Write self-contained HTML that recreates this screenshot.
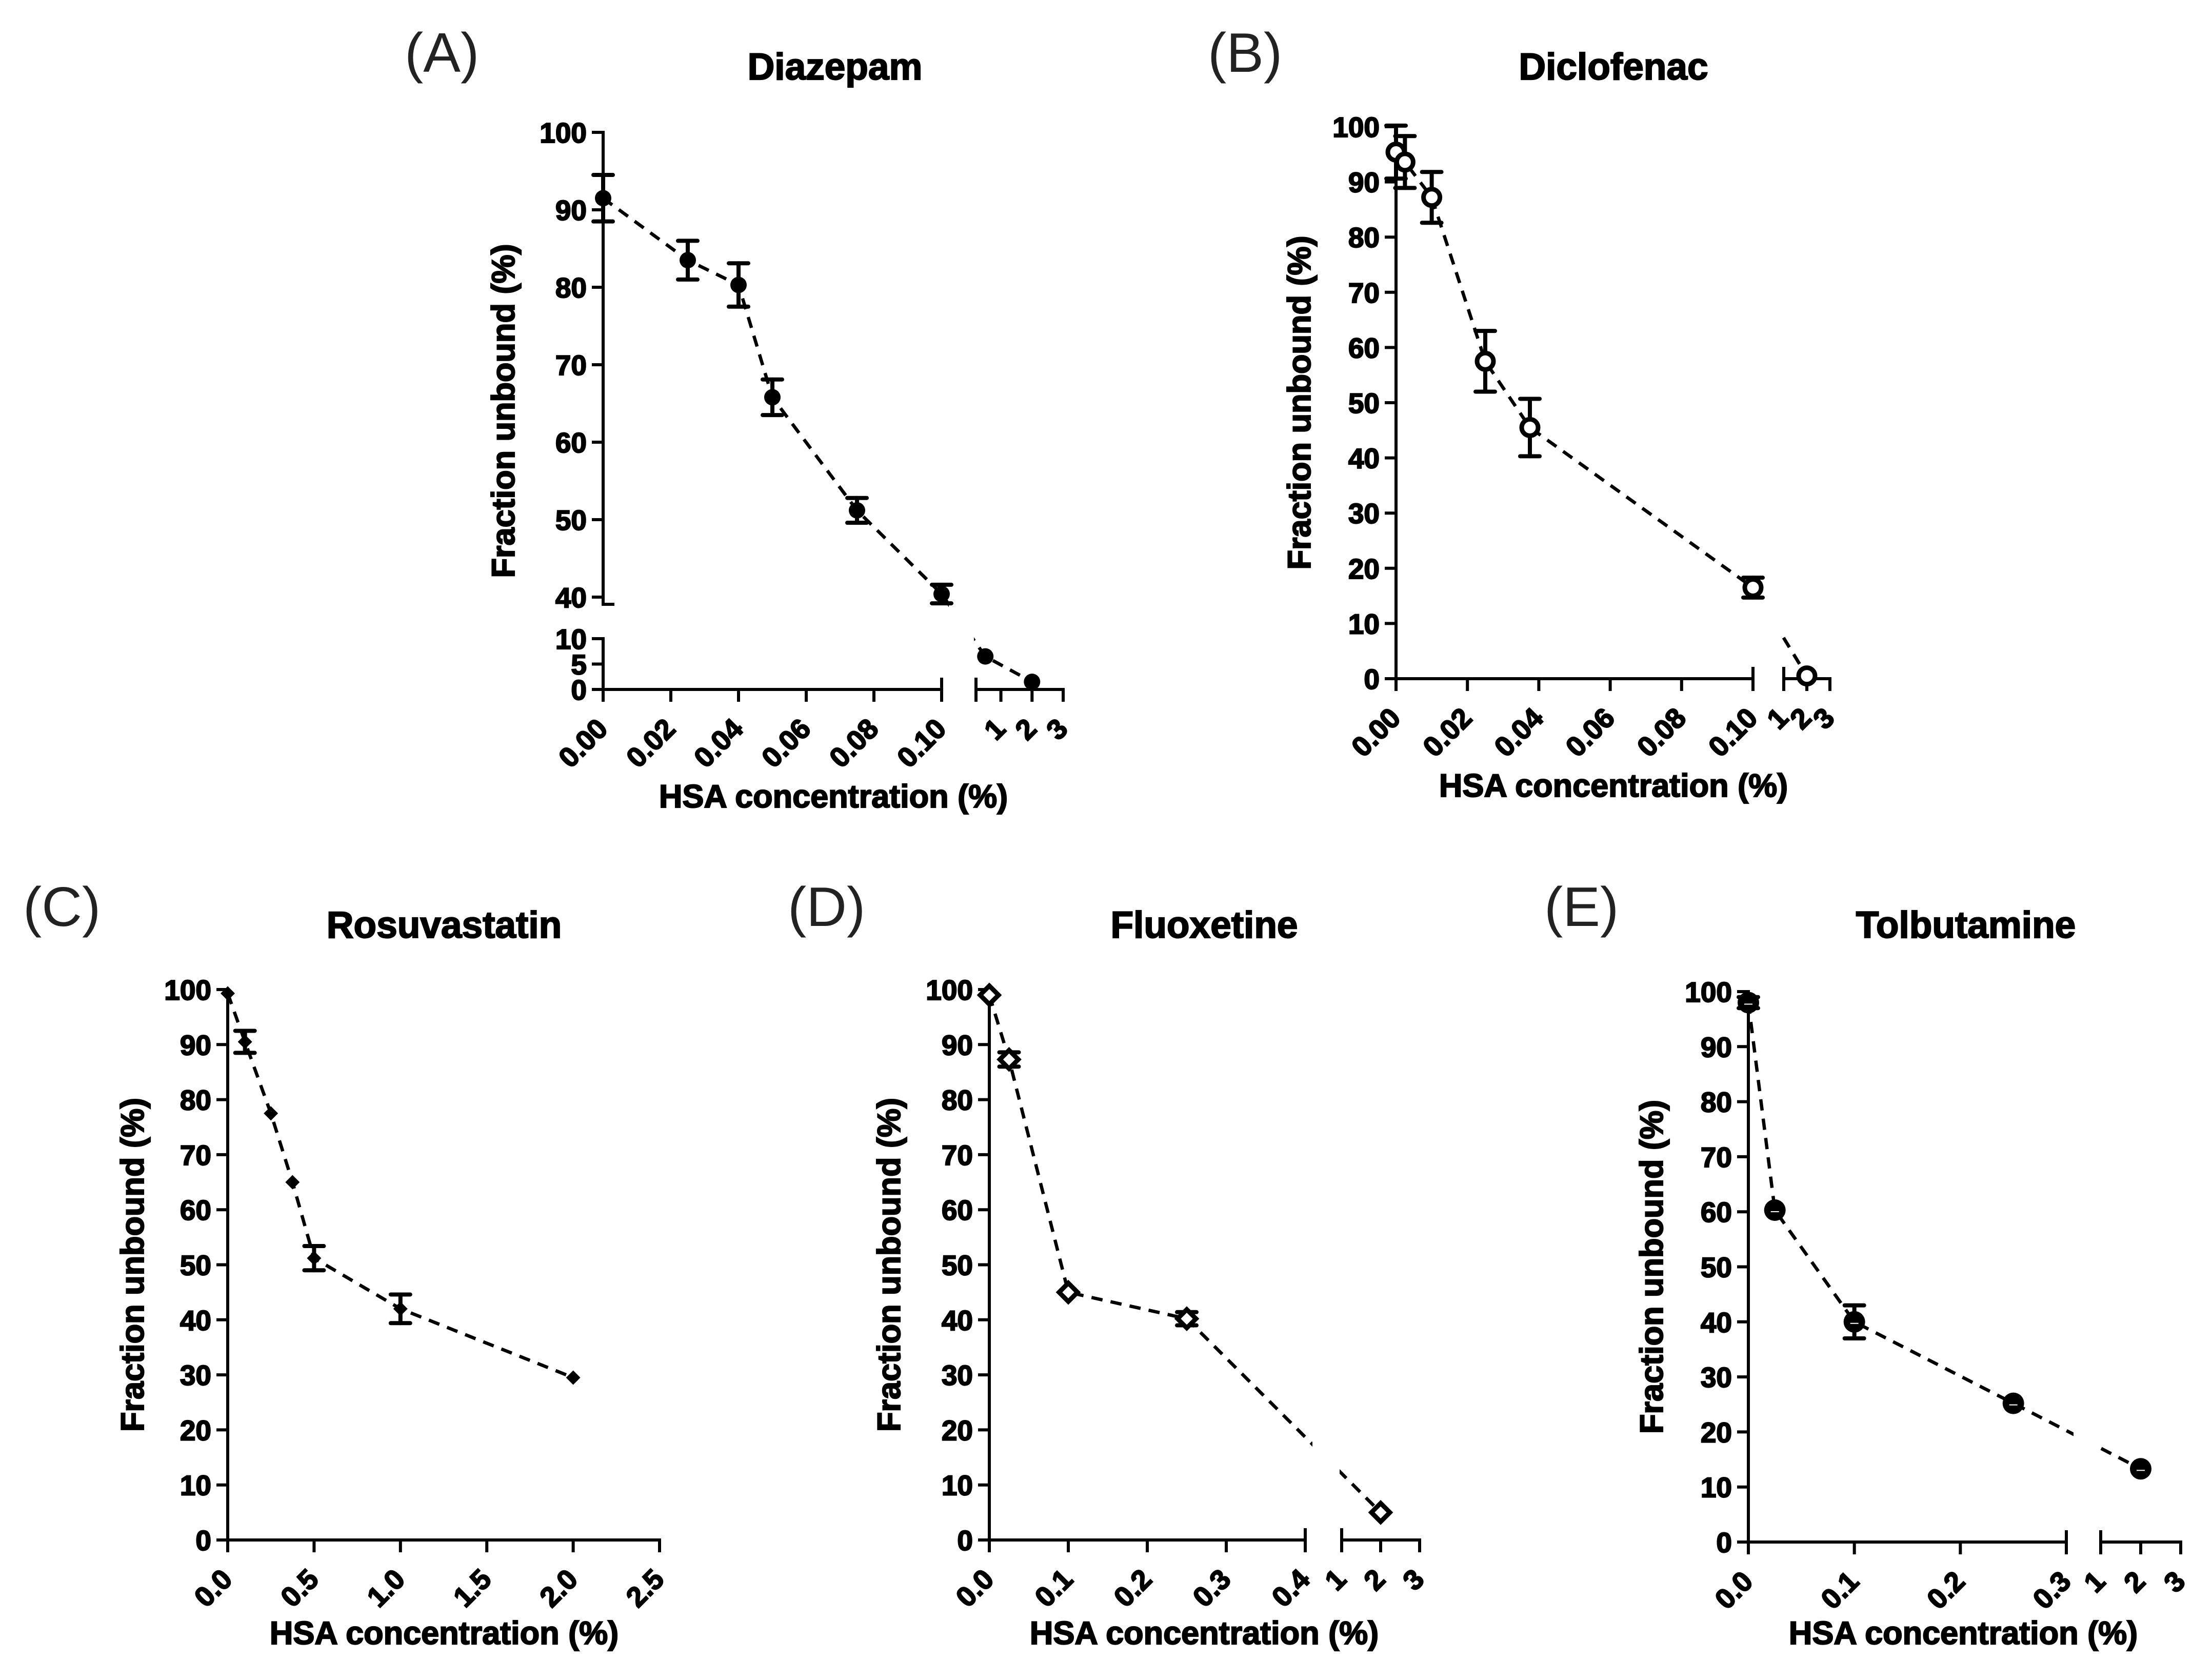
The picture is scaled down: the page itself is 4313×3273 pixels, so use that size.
<!DOCTYPE html>
<html><head><meta charset="utf-8"><style>
html,body{margin:0;padding:0;background:#fff}
svg{display:block}
text{font-family:"Liberation Sans",Arial,sans-serif}
</style></head><body>
<svg id="fig" xmlns="http://www.w3.org/2000/svg" width="4313" height="3273" viewBox="0 0 4313 3273">
<rect width="4313" height="3273" fill="#fff"/>
</svg>
<script>
// ---------- data ----------
const diazepamX = [0, 0.025, 0.04, 0.05, 0.075, 0.1, 0.5, 2];
const diazepamY = [91.5, 83.5, 80.3, 65.8, 51.2, 40.4, 6.5, 1.5];
const diazepamErr = [3, 2.5, 2.8, 2.3, 1.6, 1.2, 0.3, 0.3];

const diclofenacX = [0, 0.0025, 0.01, 0.025, 0.0375, 0.1, 2];
const diclofenacY = [95.4, 93.6, 87.2, 57.5, 45.5, 16.5, 0.5];
const diclofenacErr = [4.8, 4.7, 4.6, 5.5, 5.2, 1.8, 0.3];

const rosuvastatinX = [0, 0.1, 0.25, 0.375, 0.5, 1.0, 2.0];
const rosuvastatinY = [99.3, 90.5, 77.5, 65, 51.2, 42, 29.5];
const rosuvastatinErr = [0.3, 2, 0.5, 0.5, 2.2, 2.6, 0.5];

const fluoxetineX = [0, 0.025, 0.1, 0.25, 2];
const fluoxetineY = [99, 87.3, 45, 40.2, 5];
const fluoxetineErr = [0.5, 1.3, 0.5, 1.2, 0.5];

const tolbutamineX = [0, 0.025, 0.1, 0.25, 2];
const tolbutamineY = [98, 60.3, 40, 25.2, 13.3];
const tolbutamineErr = [1, 0.5, 3, 0.5, 0.5];

const ticksA1 = ["0.00","0.02","0.04","0.06","0.08","0.10"];
const ticksA2 = ["1","2","3"];
const ticksC = ["0.0","0.5","1.0","1.5","2.0","2.5"];
const ticksD1 = ["0.0","0.1","0.2","0.3","0.4"];
const ticksE1 = ["0.0","0.1","0.2","0.3"];
const yTicks100 = ["0","10","20","30","40","50","60","70","80","90","100"];
const yTicksA1 = ["40","50","60","70","80","90","100"];
const yTicksA2 = ["0","5","10"];

// ---------- drawing ----------
const NS = "http://www.w3.org/2000/svg";
const svg = document.getElementById("fig");
function mk(tag, attrs, parent) {
  const e = document.createElementNS(NS, tag);
  for (const k in attrs) e.setAttribute(k, attrs[k]);
  (parent || svg).appendChild(e);
  return e;
}
let clipId = 0;
const BOLD = {"font-weight": "bold", stroke: "#000", "stroke-width": 2.2};

function panel(cfg) {
  const g = mk("g", {});
  
  
  const segMap = (s, v) => s.p0 + (v - s.v0) / (s.v1 - s.v0) * (s.p1 - s.p0);
  const pickSeg = (segs, v) => {
    let best = segs[0], bd = Infinity;
    for (const s of segs) {
      const d = v < s.v0 ? s.v0 - v : (v > s.v1 ? v - s.v1 : 0);
      if (d < bd) { bd = d; best = s; }
    }
    return best;
  };
  const xmap = v => segMap(pickSeg(cfg.xs, v), v);
  const ymapSeg = (v, ref) => segMap(pickSeg(cfg.ys, ref), v);
  const ymap = v => ymapSeg(v, v);
  const ax = cfg.xs[0].p0;
  const lab = mk("text", {x: cfg.labX, y: cfg.labY, "font-size": 109, fill: "#222"}, g);
  lab.textContent = cfg.label;
  
  
  const tt = mk("text", Object.assign({x: cfg.titleX, y: cfg.titleY, "font-size": 73, "text-anchor": "middle"}, BOLD), g);
  tt.textContent = cfg.title;
  
  
  cfg.ys.forEach((s) => {
    const top = s.p1, bot = s.p0 + (s.extBot || 0);
    const ln = mk("line", {x1: ax, y1: top - 3, x2: ax, y2: bot + 3, stroke: "#000", "stroke-width": 6}, g);
    
    
    if (s.extBot) {
      const c = mk("line", {x1: ax - 3, y1: bot, x2: ax + 22, y2: bot, stroke: "#000", "stroke-width": 6}, g);
      
      
    }
    s.labels.forEach(t => {
      const v = parseFloat(t);
      const y = segMap(s, v);
      const tk = mk("line", {x1: ax - 22, y1: y, x2: ax, y2: y, stroke: "#000", "stroke-width": 6}, g);
      
      
      const tx = mk("text", Object.assign({x: ax - 32, y: y + 20, "font-size": 55, "text-anchor": "end"}, BOLD), g);
      tx.textContent = t;
      
      
    });
  });
  const axisY = cfg.ys[0].p0;
  cfg.xs.forEach((s, i) => {
    const ln = mk("line", {x1: s.p0 - 3, y1: axisY, x2: s.p1 + 3, y2: axisY, stroke: "#000", "stroke-width": 6}, g);
    
    
    if (i > 0) {
      const b = mk("line", {x1: s.p0, y1: axisY - 23, x2: s.p0, y2: axisY + 24, stroke: "#000", "stroke-width": 6}, g);
      
      
    }
    if (i < cfg.xs.length - 1) {
      const b = mk("line", {x1: s.p1, y1: axisY - 23, x2: s.p1, y2: axisY + 24, stroke: "#000", "stroke-width": 6}, g);
      
      
    }
    s.labels.forEach(t => {
      const v = parseFloat(t);
      const x = segMap(s, v);
      const tk = mk("line", {x1: x, y1: axisY, x2: x, y2: axisY + 24, stroke: "#000", "stroke-width": 6}, g);
      
      
      const tx = mk("text", Object.assign({transform: `translate(${x + 12},${axisY + 80}) rotate(-45)`, "font-size": 55, "text-anchor": "end"}, BOLD), g);
      tx.textContent = t;
      
      
    });
  });
  const xt = mk("text", Object.assign({x: cfg.xtX, y: cfg.xtY, "font-size": 63, "text-anchor": "middle"}, BOLD), g);
  xt.textContent = "HSA concentration (%)";
  
  
  const yc = (cfg.ys[0].p0 + cfg.ys[cfg.ys.length - 1].p1) / 2;
  const yt = mk("text", Object.assign({transform: `translate(${cfg.ytX},${yc}) rotate(-90)`, "font-size": 63, "text-anchor": "middle"}, BOLD), g);
  yt.textContent = "Fraction unbound (%)";
  
  
  const id = "clp" + (clipId++);
  const cp = mk("clipPath", {id: id}, g);
  cfg.xs.forEach((s, i) => {
    const l = i === 0 ? s.p0 - 60 : s.p0 - 4;
    const r = i === cfg.xs.length - 1 ? s.p1 + 60 : s.p1 + 14;
    mk("rect", {x: l, y: 0, width: r - l, height: 4000}, cp);
  });
  const X = cfg.x, Y = cfg.y, E = cfg.err;
  const pts = X.map((v, i) => [xmap(v), ymap(Y[i])]);
  const line = mk("polyline", {points: pts.map(p => p.join(",")).join(" "), fill: "none", stroke: "#000", "stroke-width": 6.5, "stroke-dasharray": "22 16", "clip-path": `url(#${id})`}, g);
  
  
  X.forEach((v, i) => {
    const x = pts[i][0];
    const y1 = ymapSeg(Y[i] + E[i], Y[i]), y2 = ymapSeg(Y[i] - E[i], Y[i]);
    const eg = mk("g", {stroke: "#000", "stroke-width": 8, "stroke-linecap": "round"}, g);
    
    
    if (Math.abs(y2 - y1) > 14) {
      mk("line", {x1: x, y1: y1, x2: x, y2: y2}, eg);
      mk("line", {x1: x - 19, y1: y1, x2: x + 19, y2: y1}, eg);
      mk("line", {x1: x - 19, y1: y2, x2: x + 19, y2: y2}, eg);
    }
  });
  X.forEach((v, i) => {
    const [x, y] = pts[i];
    let m;
    if (cfg.marker === "dot") m = mk("circle", {cx: x, cy: y, r: 16, fill: "#000"}, g);
    else if (cfg.marker === "ring") m = mk("circle", {cx: x, cy: y, r: 16, fill: "#fff", stroke: "#000", "stroke-width": 9}, g);
    else if (cfg.marker === "diamond") m = mk("polygon", {points: `${x},${y - 14} ${x + 14},${y} ${x},${y + 14} ${x - 14},${y}`, fill: "#000"}, g);
    else if (cfg.marker === "odiamond") m = mk("polygon", {points: `${x},${y - 18} ${x + 18},${y} ${x},${y + 18} ${x - 18},${y}`, fill: "#fff", stroke: "#000", "stroke-width": 9}, g);
    else {
      m = mk("circle", {cx: x, cy: y, r: 21, fill: "#000"}, g);
      const w = mk("line", {x1: x - 8, y1: y + 3, x2: x + 8, y2: y + 3, stroke: "#fff", "stroke-width": 2}, g);
      
      
    }
    
    
  });
}

panel({name: "diazepam", label: "(A)", labX: 789, labY: 140, title: "Diazepam", titleX: 1628, titleY: 155,
  xtX: 1625, xtY: 1574, ytX: 1003,
  ys: [{v0: 0, v1: 10, p0: 1344, p1: 1245, labels: yTicksA2},
       {v0: 40, v1: 100, p0: 1164, p1: 258, labels: yTicksA1, extBot: 14}],
  xs: [{v0: 0, v1: 0.1, p0: 1176, p1: 1836, labels: ticksA1},
       {v0: 0.2, v1: 3, p0: 1903, p1: 2073, labels: ticksA2}],
  x: diazepamX, y: diazepamY, err: diazepamErr, marker: "dot"});

panel({name: "diclofenac", label: "(B)", labX: 2355, labY: 140, title: "Diclofenac", titleX: 3146, titleY: 155,
  xtX: 3146, xtY: 1553, ytX: 2555,
  ys: [{v0: 0, v1: 100, p0: 1323, p1: 247, labels: yTicks100}],
  xs: [{v0: 0, v1: 0.1, p0: 2722, p1: 3418, labels: ticksA1},
       {v0: 1, v1: 3, p0: 3478, p1: 3568, labels: ticksA2}],
  x: diclofenacX, y: diclofenacY, err: diclofenacErr, marker: "ring"});

panel({name: "rosuvastatin", label: "(C)", labX: 45, labY: 1805, title: "Rosuvastatin", titleX: 866, titleY: 1828,
  xtX: 866, xtY: 3205, ytX: 280,
  ys: [{v0: 0, v1: 100, p0: 3002, p1: 1929, labels: yTicks100}],
  xs: [{v0: 0, v1: 2.5, p0: 444, p1: 1286, labels: ticksC}],
  x: rosuvastatinX, y: rosuvastatinY, err: rosuvastatinErr, marker: "diamond"});

panel({name: "fluoxetine", label: "(D)", labX: 1536, labY: 1805, title: "Fluoxetine", titleX: 2348, titleY: 1828,
  xtX: 2348, xtY: 3205, ytX: 1755,
  ys: [{v0: 0, v1: 100, p0: 3002, p1: 1929, labels: yTicks100}],
  xs: [{v0: 0, v1: 0.4, p0: 1929, p1: 2545, labels: ticksD1},
       {v0: 1, v1: 3, p0: 2616, p1: 2768, labels: ticksA2}],
  x: fluoxetineX, y: fluoxetineY, err: fluoxetineErr, marker: "odiamond"});

panel({name: "tolbutamine", label: "(E)", labX: 3011, labY: 1805, title: "Tolbutamine", titleX: 3833, titleY: 1828,
  xtX: 3828, xtY: 3205, ytX: 3242,
  ys: [{v0: 0, v1: 100, p0: 3006, p1: 1933, labels: yTicks100}],
  xs: [{v0: 0, v1: 0.3, p0: 3409, p1: 4029, labels: ticksE1},
       {v0: 1, v1: 3, p0: 4096, p1: 4252, labels: ticksA2}],
  x: tolbutamineX, y: tolbutamineY, err: tolbutamineErr, marker: "bigdot"});
</script>
</body></html>
